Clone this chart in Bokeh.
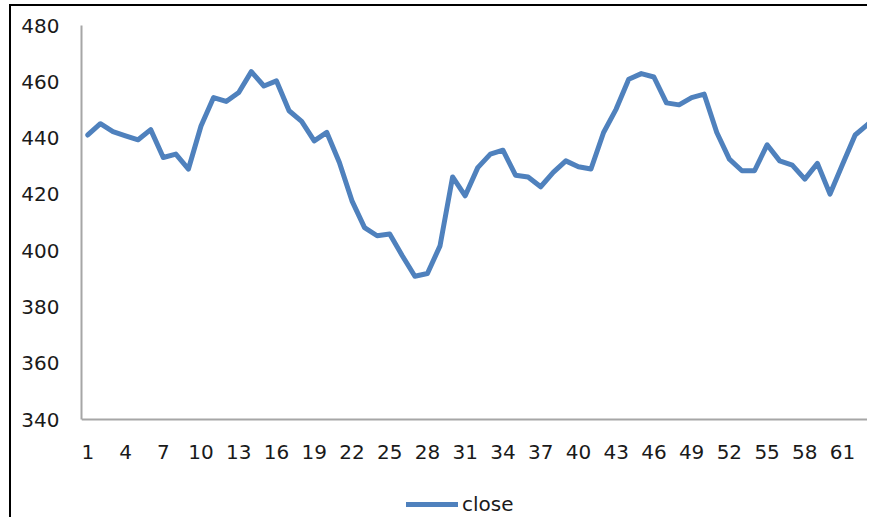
from bokeh.plotting import figure
from bokeh.models import ColumnDataSource, Range1d, FixedTicker, Legend, LegendItem
from bokeh.embed import file_html
from bokeh.resources import INLINE

# ---- data ----
day = list(range(1, 64))
close = [441.1, 445.1, 442.3, 440.8, 439.4, 443.0, 433.1, 434.3, 429.0, 444.3,
         454.4, 453.0, 456.2, 463.6, 458.5, 460.3, 449.7, 445.9, 439.0, 442.0,
         431.3, 417.7, 408.2, 405.3, 405.9, 398.2, 390.9, 391.9, 401.7, 426.2,
         419.5, 429.5, 434.3, 435.7, 426.8, 426.2, 422.7, 427.8, 431.9, 429.8,
         429.0, 442.0, 450.3, 460.9, 462.9, 461.7, 452.5, 451.8, 454.4, 455.6,
         442.0, 432.5, 428.4, 428.4, 437.6, 431.9, 430.4, 425.4, 431.0, 420.1,
         430.7, 441.1, 444.9]
x_ticks = [1, 4, 7, 10, 13, 16, 19, 22, 25, 28, 31, 34, 37, 40, 43, 46, 49, 52, 55, 58, 61]
y_ticks = [340, 360, 380, 400, 420, 440, 460, 480]
y_min, y_max = 340, 480
series_name = "close"

FONT = "DejaVu Sans"
TEXT = "#1a1a1a"
AXIS = "#A6A6A6"
BLUE = "#4F81BD"

src = ColumnDataSource(dict(day=day, close=close))

# frame runs to the bottom of the canvas so that the legend below the
# category labels stays inside it; the value axis is bounded to 340..480
p = figure(width=858, height=513, output_backend="svg", toolbar_location=None,
           x_range=Range1d(0.5, 63.14), y_range=Range1d(304.47, y_max),
           min_border_left=70, min_border_top=19, min_border_right=0,
           min_border_bottom=0)
p.styles = {"margin-left": "9px", "margin-top": "4px",
            "border-top": "2px solid #000000", "border-left": "2px solid #000000"}

r = p.line("day", "close", source=src, line_color=BLUE, line_width=5,
           line_join="round", line_cap="round")

p.xgrid.visible = False
p.ygrid.visible = False
p.outline_line_color = None
p.background_fill_color = "white"
p.border_fill_color = "white"

for ax in (p.xaxis[0], p.yaxis[0]):
    ax.axis_line_color = AXIS
    ax.axis_line_width = 2
    ax.major_tick_line_color = None
    ax.minor_tick_line_color = None
    ax.major_tick_out = 0
    ax.major_tick_in = 0
    ax.minor_tick_out = 0
    ax.minor_tick_in = 0
    ax.major_label_text_font = FONT
    ax.major_label_text_font_size = "20px"
    ax.major_label_text_color = TEXT

p.xaxis.ticker = FixedTicker(ticks=x_ticks)
p.xaxis.fixed_location = y_min
p.yaxis.ticker = FixedTicker(ticks=y_ticks)
p.yaxis.bounds = (y_min, y_max)
p.xaxis.major_label_standoff = 25
p.yaxis.major_label_standoff = 22

legend = Legend(items=[LegendItem(label=series_name, renderers=[r])],
                location=(325, 3), orientation="horizontal",
                glyph_width=52, glyph_height=20, label_height=20,
                label_standoff=4, padding=0, margin=0, spacing=0,
                border_line_color=None, background_fill_alpha=0,
                label_text_font=FONT, label_text_font_size="20px",
                label_text_color=TEXT)
p.add_layout(legend)

open("out.html", "w").write(file_html(p, INLINE))
